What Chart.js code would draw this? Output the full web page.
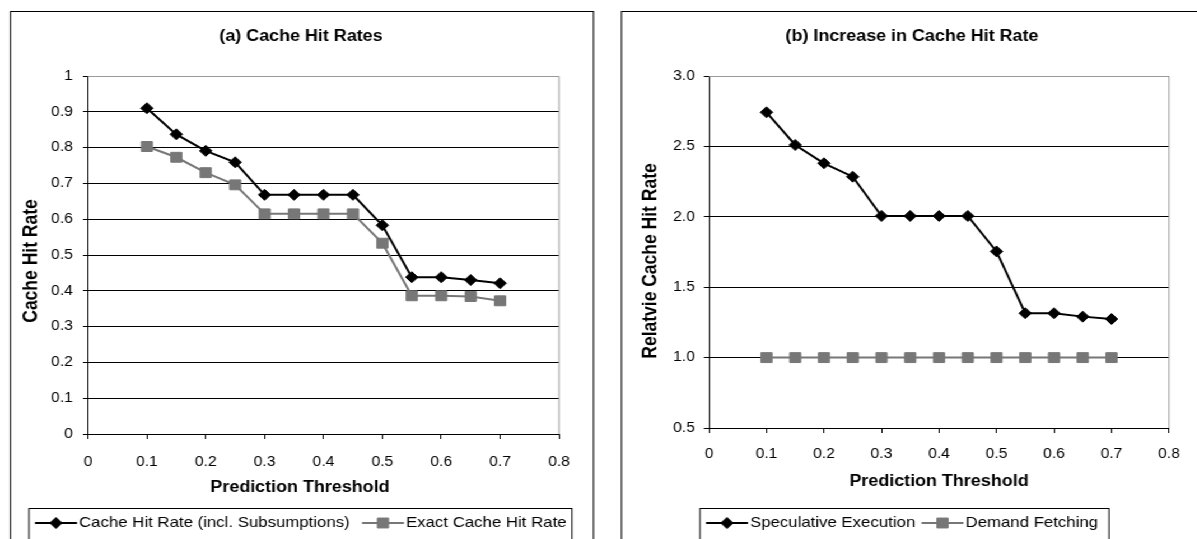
<!DOCTYPE html>
<html>
<head>
<meta charset="utf-8">
<script src="https://cdn.jsdelivr.net/npm/chart.js@4.4.1/dist/chart.umd.min.js"></script>
<style>
  html, body { margin: 0; padding: 0; background: #fff; width: 1197px; height: 539px; overflow: hidden; }
  /* the two panels are laid out on a narrower board that is widened to the page width */
  #board { position: absolute; left: 0; top: 0; width: 1080px; height: 539px; transform: scaleX(1.12); transform-origin: 0 0; }
  #board canvas { position: absolute; top: 0; }
</style>
</head>
<body>
<div id="board">
  <canvas id="hitRates" width="540" height="539" style="left:0"></canvas>
  <canvas id="relativeRates" width="540" height="539" style="left:540px"></canvas>
</div>
<script>
// ---- data ----
const thresholds = [0.1, 0.15, 0.2, 0.25, 0.3, 0.35, 0.4, 0.45, 0.5, 0.55, 0.6, 0.65, 0.7];

const hitInclSubsumptions = [0.910, 0.837, 0.791, 0.759, 0.668, 0.668, 0.668, 0.668, 0.583, 0.438, 0.438, 0.430, 0.421];
const exactHitRate        = [0.803, 0.773, 0.730, 0.696, 0.615, 0.615, 0.615, 0.615, 0.533, 0.386, 0.386, 0.384, 0.372];

const speculativeExecution = [2.742, 2.510, 2.380, 2.285, 2.006, 2.006, 2.006, 2.006, 1.754, 1.315, 1.315, 1.291, 1.274];
const demandFetching       = [1.0, 1.0, 1.0, 1.0, 1.0, 1.0, 1.0, 1.0, 1.0, 1.0, 1.0, 1.0, 1.0];

const xTickValues = [0, 0.1, 0.2, 0.3, 0.4, 0.5, 0.6, 0.7, 0.8];
const xTickLabels = ['0', '0.1', '0.2', '0.3', '0.4', '0.5', '0.6', '0.7', '0.8'];

const hitTickValues = [0, 0.1, 0.2, 0.3, 0.4, 0.5, 0.6, 0.7, 0.8, 0.9, 1];
const hitTickLabels = ['0', '0.1', '0.2', '0.3', '0.4', '0.5', '0.6', '0.7', '0.8', '0.9', '1'];

const relTickValues = [0.5, 1.0, 1.5, 2.0, 2.5, 3.0];
const relTickLabels = ['0.5', '1.0', '1.5', '2.0', '2.5', '3.0'];

const hitSeriesNames = ['Cache Hit Rate (incl. Subsumptions)', 'Exact Cache Hit Rate'];
const relSeriesNames = ['Speculative Execution', 'Demand Fetching'];

// ---- drawing ----
const STRETCH = 1.12;          // board widening factor (see #board)
const CANVAS_W = 540;
const CANVAS_H = 539;
const FONT = '"Liberation Sans", Arial, Helvetica, sans-serif';
const TICK_SIZE = 14;
const X_TITLE_SIZE = 16;
const Y_TITLE_SIZE = 17.5;
const LEGEND_SIZE = 15;
const BLACK = '#000000';
const GREY = '#777777';

Chart.defaults.font.family = FONT;
Chart.defaults.color = BLACK;

const lineStyles = [
  { color: BLACK, pointStyle: 'rectRot', radius: 5.5 },
  { color: GREY,  pointStyle: 'rect',    radius: 7 }
];

function drawMarker(ctx, style, x, y, r, color) {
  ctx.save();
  ctx.fillStyle = color;
  ctx.strokeStyle = color;
  ctx.lineWidth = 1;
  ctx.beginPath();
  if (style === 'rectRot') {
    ctx.moveTo(x, y - r);
    ctx.lineTo(x + r, y);
    ctx.lineTo(x, y + r);
    ctx.lineTo(x - r, y);
    ctx.closePath();
  } else {
    const h = r * Math.SQRT1_2;
    ctx.rect(x - h, y - h, 2 * h, 2 * h);
  }
  ctx.fill();
  ctx.stroke();
  ctx.restore();
}

function makePanel(p) {
  // page x -> canvas x
  const cx = x => x / STRETCH - p.offset;

  const padLeft = cx(p.frame.left) + 4;
  const yAxisWidth = cx(p.plot.left) - padLeft;
  const xAxisHeight = p.xTitle.y - p.plot.bottom + 12;
  const padRight = CANVAS_W - cx(p.plot.right);
  const padBottom = CANVAS_H - p.plot.bottom - xAxisHeight;

  const decor = {
    id: 'panelDecor',
    beforeDraw(chart) {
      const ctx = chart.ctx;
      ctx.save();
      // panel frame
      ctx.strokeStyle = BLACK;
      ctx.lineWidth = 1;
      ctx.strokeRect(cx(p.frame.left), p.frame.top, cx(p.frame.right) - cx(p.frame.left), 600);
      // panel title
      ctx.fillStyle = BLACK;
      ctx.font = 'bold 16px ' + FONT;
      ctx.textAlign = 'center';
      ctx.textBaseline = 'middle';
      ctx.fillText(p.title, cx(p.titleX), p.titleY);
      ctx.restore();
    },
    beforeDatasetsDraw(chart) {
      // light plot-area edge on top and right
      const a = chart.chartArea;
      const ctx = chart.ctx;
      ctx.save();
      ctx.strokeStyle = '#9a9a9a';
      ctx.lineWidth = 1;
      ctx.beginPath();
      ctx.moveTo(a.left, a.top + 0.5);
      ctx.lineTo(a.right, a.top + 0.5);
      ctx.lineTo(a.right, a.bottom);
      ctx.stroke();
      ctx.restore();
    },
    afterDraw(chart) {
      const ctx = chart.ctx;
      ctx.save();
      ctx.fillStyle = BLACK;
      ctx.textAlign = 'center';
      ctx.textBaseline = 'middle';
      // axis titles
      ctx.font = 'bold ' + X_TITLE_SIZE + 'px ' + FONT;
      ctx.fillText(p.xTitle.text, cx(p.xTitle.x), p.xTitle.y);
      ctx.save();
      ctx.translate(cx(p.yTitle.x), p.yTitle.y);
      ctx.rotate(-Math.PI / 2);
      ctx.font = 'bold ' + Y_TITLE_SIZE + 'px ' + FONT;
      ctx.fillText(p.yTitle.text, 0, 0);
      ctx.restore();

      // boxed legend below the plot
      const lg = p.legend;
      ctx.strokeStyle = BLACK;
      ctx.lineWidth = 1;
      ctx.strokeRect(cx(lg.left), lg.top + 0.5, cx(lg.right) - cx(lg.left), 60);
      ctx.font = LEGEND_SIZE + 'px ' + FONT;
      ctx.textAlign = 'left';
      chart.data.datasets.forEach((ds, i) => {
        const st = lineStyles[i];
        const x0 = cx(lg.starts[i]);
        const sample = 42 / STRETCH;
        ctx.strokeStyle = st.color;
        ctx.lineWidth = 2;
        ctx.beginPath();
        ctx.moveTo(x0, lg.textY);
        ctx.lineTo(x0 + sample, lg.textY);
        ctx.stroke();
        drawMarker(ctx, st.pointStyle, x0 + sample / 2, lg.textY, st.radius, st.color);
        ctx.fillStyle = BLACK;
        ctx.fillText(ds.label, x0 + sample + 2 / STRETCH, lg.textY);
      });
      ctx.restore();
    }
  };

  const datasets = p.series.map((vals, i) => ({
    label: p.names[i],
    data: thresholds.map((t, k) => ({ x: t, y: vals[k] })),
    borderColor: lineStyles[i].color,
    backgroundColor: lineStyles[i].color,
    pointBackgroundColor: lineStyles[i].color,
    pointBorderColor: lineStyles[i].color,
    pointStyle: lineStyles[i].pointStyle,
    pointRadius: lineStyles[i].radius,
    pointBorderWidth: 1,
    borderWidth: 2,
    tension: 0,
    fill: false
  }));

  return new Chart(document.getElementById(p.canvas), {
    type: 'line',
    data: { datasets },
    plugins: [decor],
    options: {
      responsive: false,
      animation: false,
      devicePixelRatio: 1,
      events: [],
      layout: { padding: { left: padLeft, top: p.plot.top, right: padRight, bottom: padBottom } },
      plugins: { legend: { display: false }, title: { display: false }, tooltip: { enabled: false } },
      scales: {
        x: {
          type: 'linear',
          min: xTickValues[0],
          max: xTickValues[xTickValues.length - 1],
          afterBuildTicks: s => { s.ticks = xTickValues.map(v => ({ value: v })); },
          afterFit: s => { s.height = xAxisHeight; },
          ticks: {
            callback: v => xTickLabels[xTickValues.indexOf(v)],
            font: { size: TICK_SIZE },
            color: BLACK,
            padding: p.xTickPad,
            maxRotation: 0,
            autoSkip: false
          },
          grid: { drawOnChartArea: false, drawTicks: true, tickLength: 5, color: BLACK },
          border: { display: true, color: BLACK, width: 1 },
          title: { display: false }
        },
        y: {
          type: 'linear',
          min: p.yTicks[0],
          max: p.yTicks[p.yTicks.length - 1],
          afterBuildTicks: s => { s.ticks = p.yTicks.map(v => ({ value: v })); },
          afterFit: s => { s.width = yAxisWidth; },
          ticks: {
            callback: v => p.yLabels[p.yTicks.indexOf(v)],
            font: { size: TICK_SIZE },
            color: BLACK,
            padding: p.yTickPad,
            autoSkip: false
          },
          grid: { color: BLACK, lineWidth: 1, drawTicks: true, tickLength: 4.5 },
          border: { display: true, color: BLACK, width: 1 },
          title: { display: false }
        }
      }
    }
  });
}

makePanel({
  canvas: 'hitRates',
  offset: 0,
  frame: { left: 10.5, right: 593.5, top: 11.5 },
  plot: { left: 88, right: 559, top: 76, bottom: 434 },
  title: '(a) Cache Hit Rates', titleX: 301, titleY: 37,
  yTitle: { text: 'Cache Hit Rate', x: 31, y: 261 },
  xTitle: { text: 'Prediction Threshold', x: 300, y: 488 },
  xTickPad: 14.5, yTickPad: 9,
  yTicks: hitTickValues, yLabels: hitTickLabels,
  series: [hitInclSubsumptions, exactHitRate],
  names: hitSeriesNames,
  legend: { left: 29, right: 572, top: 508, textY: 523, starts: [35, 362] }
});

makePanel({
  canvas: 'relativeRates',
  offset: 540,
  frame: { left: 621.5, right: 1204, top: 11.5 },
  plot: { left: 709, right: 1169, top: 76, bottom: 428 },
  title: '(b) Increase in Cache Hit Rate', titleX: 912, titleY: 37,
  yTitle: { text: 'Relatvie Cache Hit Rate', x: 651, y: 261 },
  xTitle: { text: 'Prediction Threshold', x: 939, y: 482 },
  xTickPad: 12.5, yTickPad: 8,
  yTicks: relTickValues, yLabels: relTickLabels,
  series: [speculativeExecution, demandFetching],
  names: relSeriesNames,
  legend: { left: 700, right: 1109, top: 508, textY: 523, starts: [706, 921.5] }
});
</script>
</body>
</html>
